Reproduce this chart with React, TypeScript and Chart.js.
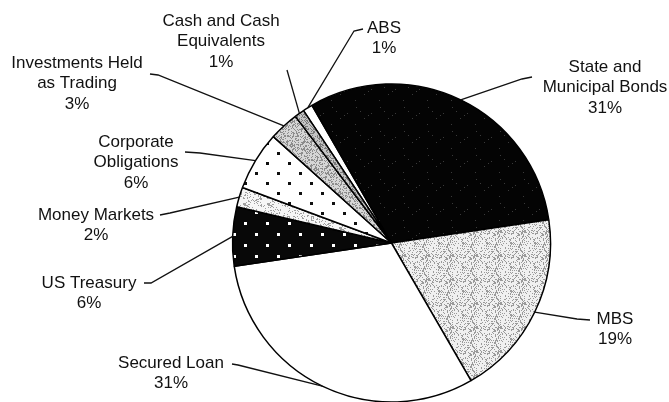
import React, { useEffect, useRef } from "react";
import { Chart, registerables } from "chart.js";

Chart.register(...registerables);

// ---- data (clockwise from the top) ----
const categories = [
  "ABS",
  "State and Municipal Bonds",
  "MBS",
  "Secured Loan",
  "US Treasury",
  "Money Markets",
  "Corporate Obligations",
  "Investments Held as Trading",
  "Cash and Cash Equivalents",
];
const values = [1, 31, 19, 31, 6, 2, 6, 3, 1];
const labelLines = [
  ["ABS"],
  ["State and", "Municipal Bonds"],
  ["MBS"],
  ["Secured Loan"],
  ["US Treasury"],
  ["Money Markets"],
  ["Corporate", "Obligations"],
  ["Investments Held", "as Trading"],
  ["Cash and Cash", "Equivalents"],
];
const percentLabels = ["1%", "31%", "19%", "31%", "6%", "2%", "6%", "3%", "1%"];

// ---- layout of the callouts (text centre, leader start, optional elbow) ----
type Lay = { tx: number; ty: number; sx: number; sy: number; ex?: number; ey?: number };
const labelLayout: Lay[] = [
  { tx: 384, ty: 28, sx: 363, sy: 29, ex: 354, ey: 31 },
  { tx: 605, ty: 67, sx: 532, sy: 77, ex: 522, ey: 79 },
  { tx: 615, ty: 319, sx: 590, sy: 320, ex: 577, ey: 319 },
  { tx: 171, ty: 363, sx: 232, sy: 364, ex: 238, ey: 365 },
  { tx: 89, ty: 283, sx: 144, sy: 283, ex: 151, ey: 283 },
  { tx: 96, ty: 215, sx: 160, sy: 215, ex: 170, ey: 213 },
  { tx: 136, ty: 142, sx: 185, sy: 152, ex: 200, ey: 153 },
  { tx: 77, ty: 63, sx: 150, sy: 74, ex: 158, ey: 75 },
  { tx: 221, ty: 21, sx: 287, sy: 70 },
];

const FONT = '17px "Liberation Sans", Arial, sans-serif';
const LINE_H = 20.5;

function hash(i: number, j: number, s: number) {
  let h = (i * 374761393 + j * 668265263 + s * 982451653) | 0;
  h = (h ^ (h >>> 13)) * 1274126177;
  h = h ^ (h >>> 16);
  return ((h >>> 0) % 1000) / 1000;
}

function stipple(bg: string, fg: string, density: number, seed: number, size = 24) {
  const c = document.createElement("canvas");
  c.width = size;
  c.height = size;
  const g = c.getContext("2d")!;
  g.fillStyle = bg;
  g.fillRect(0, 0, size, size);
  g.fillStyle = fg;
  for (let i = 0; i < size; i++)
    for (let j = 0; j < size; j++) if (hash(i, j, seed) < density) g.fillRect(i, j, 1, 1);
  return c;
}

function dots(bg: string, fg: string, w: number, h: number, r: number) {
  const c = document.createElement("canvas");
  c.width = w;
  c.height = h;
  const g = c.getContext("2d")!;
  g.fillStyle = bg;
  g.fillRect(0, 0, w, h);
  g.fillStyle = fg;
  g.fillRect(2, 2, r, r);
  g.fillRect(2 + w / 2, 2 + h / 2, r, r);
  return c;
}

const calloutPlugin = {
  id: "callouts",
  afterDatasetsDraw(chart: any) {
    const ctx: CanvasRenderingContext2D = chart.ctx;
    const meta = chart.getDatasetMeta(0);
    ctx.save();
    ctx.strokeStyle = "#111";
    ctx.lineWidth = 1.3;
    ctx.fillStyle = "#111";
    ctx.font = FONT;
    ctx.textAlign = "center";
    ctx.textBaseline = "middle";
    meta.data.forEach((arc: any, i: number) => {
      const p = arc.getProps(["x", "y", "startAngle", "endAngle", "outerRadius"], true);
      const mid = (p.startAngle + p.endAngle) / 2;
      const px = p.x + Math.cos(mid) * p.outerRadius;
      const py = p.y + Math.sin(mid) * p.outerRadius;
      const L = labelLayout[i];
      ctx.beginPath();
      ctx.moveTo(L.sx, L.sy);
      if (L.ex !== undefined) ctx.lineTo(L.ex, L.ey!);
      ctx.lineTo(px, py);
      ctx.stroke();
      const lines = [...labelLines[i], percentLabels[i]];
      lines.forEach((t, k) => ctx.fillText(t, L.tx, L.ty + k * LINE_H));
    });
    ctx.restore();
  },
};

export default function App() {
  const ref = useRef<HTMLCanvasElement>(null);
  useEffect(() => {
    const canvas = ref.current!;
    const ctx = canvas.getContext("2d")!;
    const pat = (c: HTMLCanvasElement) => ctx.createPattern(c, "repeat")!;
    const fills = [
      "#ffffff", // ABS
      pat(stipple("#040404", "#3a3a3a", 0.012, 1)), // State
      pat(stipple("#f0f0f0", "#9a9a9a", 0.28, 2)), // MBS
      "#ffffff", // Secured loan
      pat(dots("#080808", "#ffffff", 22, 22, 3)), // Treasury
      pat(stipple("#f6f6f6", "#a0a0a0", 0.2, 3)), // Money markets
      pat(dots("#ffffff", "#111111", 22, 20, 3)), // Corporate
      pat(stipple("#d6d6d6", "#8c8c8c", 0.35, 4)), // Investments
      pat(stipple("#c4c4c4", "#7a7a7a", 0.35, 5)), // Cash
    ];
    const chart = new Chart(canvas, {
      type: "pie",
      data: {
        labels: categories,
        datasets: [
          {
            data: values,
            backgroundColor: fills as any,
            borderColor: "#000",
            borderWidth: 1.5,
            radius: 159,
          } as any,
        ],
      },
      options: {
        animation: false,
        responsive: false,
        rotation: 326.4,
        layout: { padding: { left: 232, right: 118, top: 84, bottom: 0 } },
        plugins: { legend: { display: false }, tooltip: { enabled: false } },
      },
      plugins: [calloutPlugin],
    });
    return () => chart.destroy();
  }, []);
  return (
    <div style={{ position: "absolute", left: 0, top: 0, width: 669, height: 402, background: "#fff" }}>
      <canvas ref={ref} width={669} height={402} style={{ display: "block" }} />
    </div>
  );
}
